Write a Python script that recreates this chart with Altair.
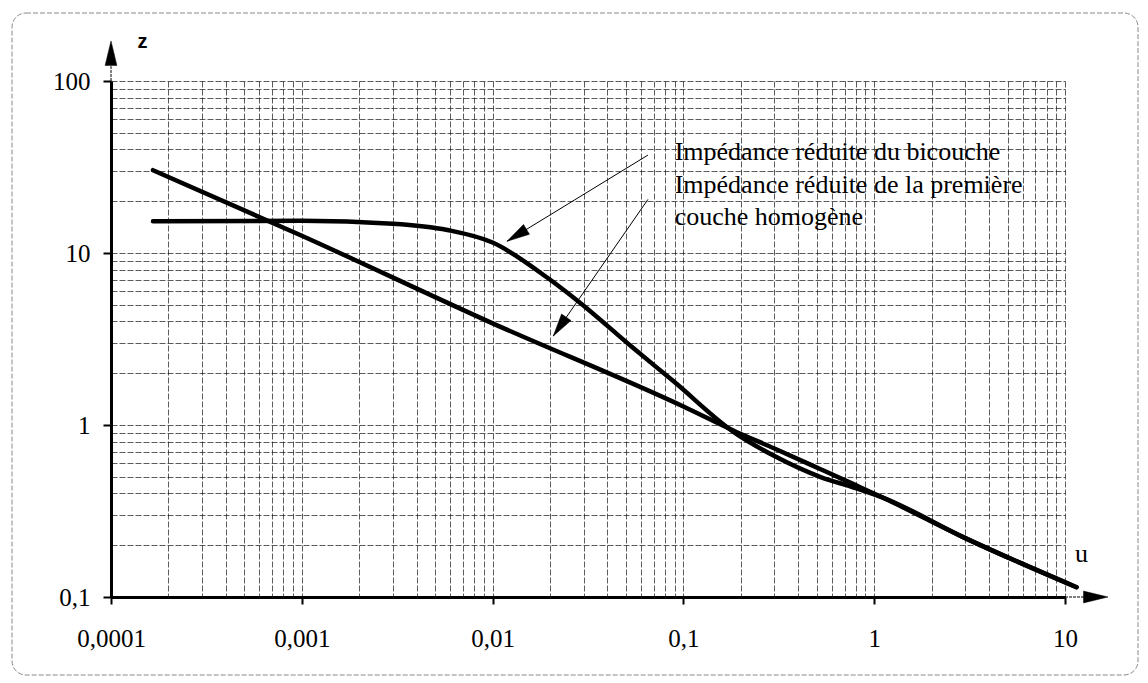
import altair as alt
import pandas as pd

# ---- data ----
homog_u = [0.000166, 0.001, 0.01, 0.1, 0.186, 0.3, 0.52, 0.8, 1.1, 3, 11.5]
homog_z = [30.3, 12.6, 3.9, 1.28, 0.92, 0.73, 0.555, 0.447, 0.38, 0.22, 0.114]

bic_u = [0.000166, 0.001, 0.003, 0.0058, 0.01, 0.0193, 0.0287, 0.0546, 0.0885,
         0.186, 0.3, 0.52, 0.8, 1.1, 3, 11.5]
bic_z = [15.3, 15.4, 14.8, 13.6, 11.5, 7.2, 5.14, 2.80, 1.80,
         0.90, 0.66, 0.50, 0.43, 0.38, 0.22, 0.114]

x_ticks = [0.0001, 0.001, 0.01, 0.1, 1, 10]
x_labels = ["0,0001", "0,001", "0,01", "0,1", "1", "10"]
y_ticks = [0.1, 1, 10, 100]
y_labels = ["0,1", "1", "10", "100"]

note_lines = ["Impédance réduite du bicouche",
              "Impédance réduite de la première",
              "couche homogène"]
note_u = [0.09, 0.09, 0.09]
note_z = [34.7, 22.4, 14.5]

# annotation arrows: start (u, z) -> tip (u, z), head angle
arr_u0 = [0.0652, 0.0652]
arr_z0 = [37.1, 20.5]
arr_u1 = [0.0119, 0.0208]
arr_z1 = [11.7, 3.29]
arr_angle = [238.6, 214.7]

# ---- helpers ----
def grid_values(decades):
    vals = []
    for d in decades[:-1]:
        for k in range(1, 10):
            vals.append(round(d * k, 10))
    vals.append(decades[-1])
    return vals

def label_expr(values, labels):
    expr = "''"
    for v, l in reversed(list(zip(values, labels))):
        expr = f"datum.value == {v} ? '{l}' : ({expr})"
    return expr

def major_test(values):
    return "indexof([" + ",".join(str(v) for v in values) + "], datum.value) >= 0"

SERIF = "Liberation Serif"
GRID = dict(grid=True, gridColor="#1a1a1a", gridDash=[6, 2], gridWidth=0.8, gridOpacity=0.9)

xscale = alt.Scale(type="log", domain=[0.0001, 10], nice=False)
yscale = alt.Scale(type="log", domain=[0.1, 100], nice=False)

x_axis = alt.Axis(
    values=grid_values(x_ticks), labelExpr=label_expr(x_ticks, x_labels),
    **GRID,
    domain=True, domainColor="black", domainWidth=3,
    ticks=True, tickColor="black", tickWidth=2, tickSize=7,
    tickOpacity={"condition": {"test": major_test(x_ticks), "value": 1}, "value": 0},
    labelFont=SERIF, labelFontSize=25, labelColor="black",
    labelBaseline="alphabetic", labelPadding=42, labelFlush=False, labelOverlap=False,
    title="u", titleFont=SERIF, titleFontSize=26, titleFontWeight="normal",
    titleColor="black", titleX=970, titleY=-36, titleAlign="center",
    titleBaseline="alphabetic",
)
y_axis = alt.Axis(
    values=grid_values(y_ticks), labelExpr=label_expr(y_ticks, y_labels),
    **GRID,
    domain=True, domainColor="black", domainWidth=3,
    ticks=True, tickColor="black", tickWidth=2, tickSize=8,
    tickOpacity={"condition": {"test": major_test(y_ticks), "value": 1}, "value": 0},
    labelFont=SERIF, labelFontSize=25, labelColor="black",
    labelBaseline="middle", labelPadding=13, labelFlush=False, labelOverlap=False,
    title="z", titleFont="Liberation Sans", titleFontSize=20, titleFontWeight="bold",
    titleColor="black", titleAngle=0, titleX=31, titleY=-34, titleAlign="center",
    titleBaseline="alphabetic",
)

curves = pd.DataFrame({
    "u": homog_u + bic_u,
    "z": homog_z + bic_z,
    "serie": ["homogene"] * len(homog_u) + ["bicouche"] * len(bic_u),
})

lines = alt.Chart(curves).mark_line(strokeWidth=4.5, interpolate="monotone", strokeCap="round").encode(
    x=alt.X("u:Q", scale=xscale, axis=x_axis),
    y=alt.Y("z:Q", scale=yscale, axis=y_axis),
    color=alt.Color("serie:N", scale=alt.Scale(range=["black", "black"]), legend=None),
    detail="serie:N",
)

# frame around the figure (decoration)
frame = alt.Chart(pd.DataFrame({"a": [0]})).mark_rect(
    filled=False, stroke="#888", strokeDash=[5, 2], strokeWidth=1, cornerRadius=14
).encode(x=alt.value(-99), x2=alt.value(1027), y=alt.value(-68), y2=alt.value(594))

arrows = pd.DataFrame({"u0": arr_u0, "z0": arr_z0, "u1": arr_u1, "z1": arr_z1, "ang": arr_angle})
arrow_lines = alt.Chart(arrows).mark_rule(color="black", strokeWidth=1).encode(
    x=alt.X("u0:Q", scale=xscale, axis=x_axis),
    y=alt.Y("z0:Q", scale=yscale, axis=y_axis),
    x2="u1:Q", y2="z1:Q",
)
HEAD = "M0,0L0.5,2L-0.5,2Z"
arrow_heads = alt.Chart(arrows).mark_point(
    shape=HEAD, filled=True, fill="black", stroke="black", strokeWidth=0.5, opacity=1, size=520
).encode(
    x=alt.X("u1:Q", scale=xscale, axis=x_axis),
    y=alt.Y("z1:Q", scale=yscale, axis=y_axis),
    angle=alt.Angle("ang:Q", scale=None),
)

notes = pd.DataFrame({"u": note_u, "z": note_z, "t": note_lines})
texts = alt.Chart(notes).mark_text(
    font=SERIF, fontSize=26, align="left", baseline="alphabetic", color="black"
).encode(
    x=alt.X("u:Q", scale=xscale, axis=x_axis),
    y=alt.Y("z:Q", scale=yscale, axis=y_axis),
    text="t:N",
)

# axis extensions and arrowheads
ext = pd.DataFrame({"u0": [0.0001, 10], "z0": [100, 0.1], "u1": [0.0001, 12.7], "z1": [122, 0.1]})
ext_lines = alt.Chart(ext).mark_rule(color="black", strokeWidth=1, strokeDash=[3, 1]).encode(
    x=alt.X("u0:Q", scale=xscale, axis=x_axis),
    y=alt.Y("z0:Q", scale=yscale, axis=y_axis),
    x2="u1:Q", y2="z1:Q",
)
tips = pd.DataFrame({"u": [0.0001, 16.8], "z": [171, 0.1], "ang": [0, 90]})
axis_heads = alt.Chart(tips).mark_point(
    shape="M0,0L0.48,2L-0.48,2Z", filled=True, fill="black", stroke="black",
    strokeWidth=0.5, opacity=1, size=600
).encode(
    x=alt.X("u:Q", scale=xscale, axis=x_axis),
    y=alt.Y("z:Q", scale=yscale, axis=y_axis),
    angle=alt.Angle("ang:Q", scale=None),
)

chart = alt.layer(
    lines, frame, arrow_lines, arrow_heads, texts, ext_lines, axis_heads
).properties(
    width=954, height=516,
    autosize=alt.AutoSizeParams(type="none"),
    padding={"left": 111, "top": 81, "right": 83, "bottom": 86},
    background="white",
).configure_view(strokeWidth=0)

chart.save("out.html", embed_options={"renderer": "svg", "actions": False})
